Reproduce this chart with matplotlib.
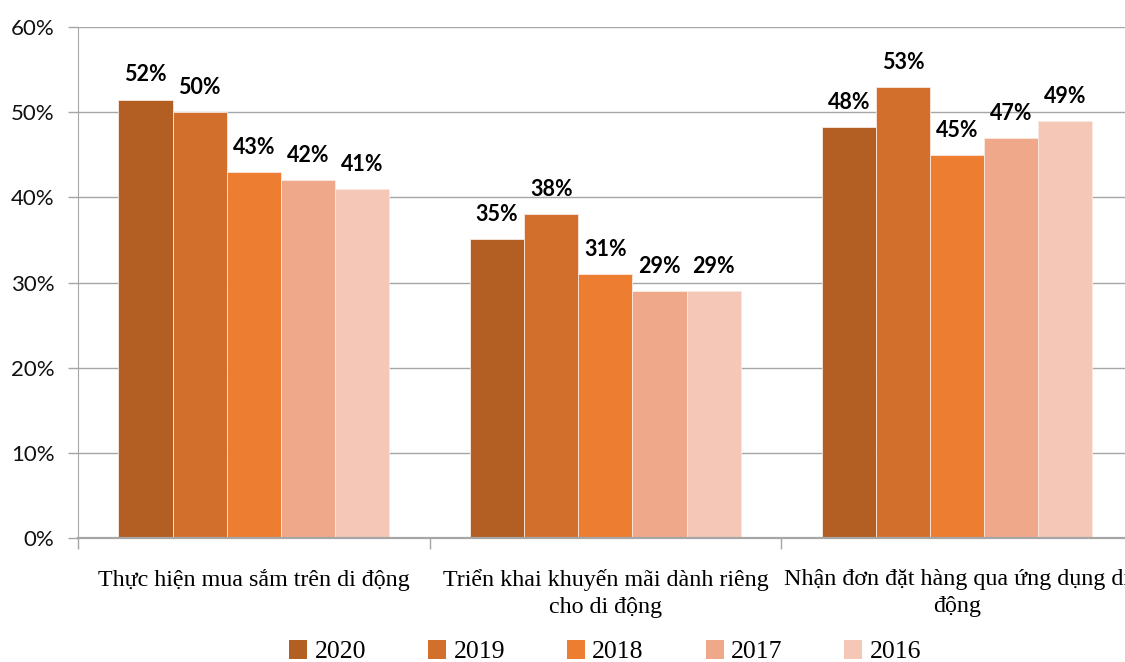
import numpy as np
import matplotlib.pyplot as plt
from matplotlib.patches import Patch

categories = ["Thực hiện mua sắm trên di động",
              "Triển khai khuyến mãi dành riêng\ncho di động",
              "Nhận đơn đặt hàng qua ứng dụng di\nđộng"]
years = ["2020", "2019", "2018", "2017", "2016"]
v2020 = [51.5, 35.1, 48.3]
v2019 = [50.0, 38.0, 53.0]
v2018 = [43.0, 31.0, 45.0]
v2017 = [42.0, 29.0, 47.0]
v2016 = [41.0, 29.0, 49.0]
colors = ["#B35E22", "#D36F2C", "#ED7D31", "#F0A88A", "#F5C7B7"]

series = [v2020, v2019, v2018, v2017, v2016]

fig = plt.figure(figsize=(11.25, 6.62), dpi=100)
ax = fig.add_axes([0.0693, 0.1873, 0.9377, 0.7717])

x = np.arange(len(categories))
width = 0.77 / len(series)
for i, vals in enumerate(series):
    pos = x - 0.385 + width * (i + 0.5)
    bars = ax.bar(pos, vals, width, color=colors[i], edgecolor="#fbe9e0",
                  linewidth=0.6, zorder=3)
    for b, v in zip(bars, vals):
        ax.annotate(f"{v:.0f}%", (b.get_x() + b.get_width() / 2, v),
                    xytext=(0, 13), textcoords="offset points",
                    ha="center", va="baseline", fontsize=15.5,
                    fontweight="bold", family="Lato", color="black")

ax.set_xlim(-0.5, len(categories) - 0.5)
ax.set_ylim(0, 60)
ax.set_yticks(range(0, 61, 10))
ax.set_yticklabels([f"{t}%" for t in range(0, 61, 10)], family="Lato",
                   fontsize=16, color="#111111")
ax.yaxis.grid(True, color="#a6a6a6", linewidth=1.0, zorder=0)
ax.tick_params(axis="y", length=7, width=1.0, color="#a6a6a6", pad=10)

# category labels sit between the boundary ticks
ax.set_xticks(np.arange(-0.5, len(categories), 1.0))
ax.set_xticklabels([])
ax.set_xticks(x, minor=True)
ax.set_xticklabels(categories, minor=True, family="Liberation Serif",
                   fontsize=17.3, linespacing=1.4)
ax.tick_params(axis="x", which="major", length=8, width=1.0, color="#a6a6a6")
ax.tick_params(axis="x", which="minor", length=0, pad=22)

for s in ["top", "right"]:
    ax.spines[s].set_visible(False)
ax.spines["left"].set_color("#a6a6a6")
ax.spines["bottom"].set_color("#a6a6a6")
ax.spines["bottom"].set_linewidth(1.6)
ax.spines["bottom"].set_zorder(4)

handles = [Patch(facecolor=c, edgecolor="none") for c in colors]
fig.legend(handles, years, loc="center", bbox_to_anchor=(0.538, 0.016),
           ncol=5, frameon=False, handlelength=0.7, handleheight=0.75,
           handletextpad=0.3, columnspacing=2.4,
           prop={"family": "Liberation Serif", "size": 18.5})

fig.savefig("out.png", dpi=100)
